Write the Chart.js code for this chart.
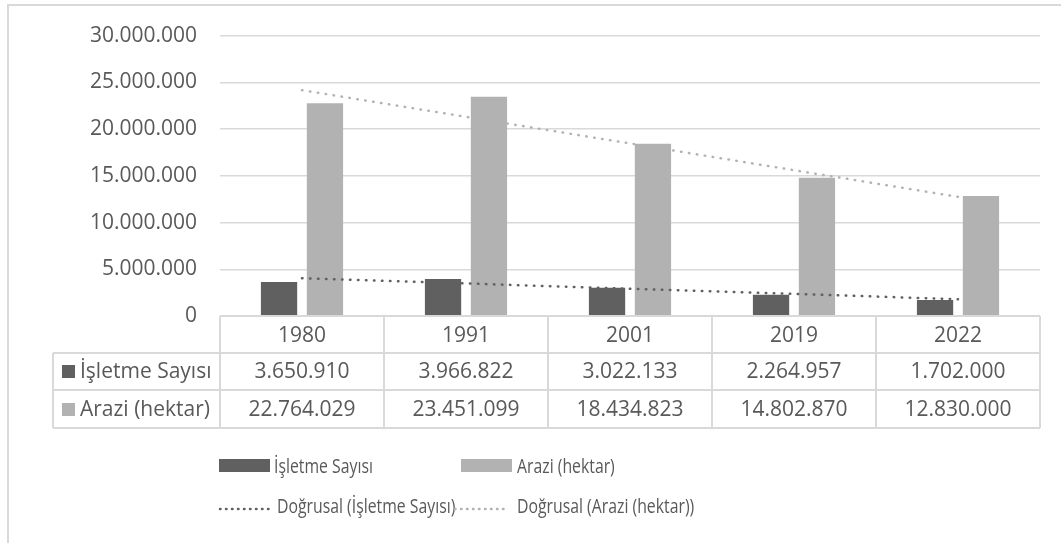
<!DOCTYPE html>
<html>
<head>
<meta charset="utf-8">
<script src="https://cdn.jsdelivr.net/npm/chart.js@4"></script>
<style>
  body { margin: 0; background: #fff; }
  #wrap { width: 1061px; height: 543px; }
</style>
</head>
<body>
<div id="wrap"><canvas id="chart" width="1061" height="543"></canvas></div>
<script>
const years = ['1980', '1991', '2001', '2019', '2022'];
const isletmeSayisi = [3650910, 3966822, 3022133, 2264957, 1702000];
const araziHektar = [22764029, 23451099, 18434823, 14802870, 12830000];
const trendIsletme = [4040000, 3480000, 2920000, 2360000, 1800000];
const trendArazi = [24160000, 21310000, 18460000, 15600000, 12750000];

const TEXT = '#595959';
const LINE = '#d9d9d9';
const DARK = '#606060';
const LIGHT = '#b2b2b2';
const FONT = '"Open Sans", sans-serif';

function fmt(n) {
  return String(n).replace(/\B(?=(\d{3})+(?!\d))/g, '.');
}

function hline(ctx, x1, x2, y) {
  ctx.beginPath(); ctx.moveTo(x1, y); ctx.lineTo(x2, y); ctx.stroke();
}
function vline(ctx, x, y1, y2) {
  ctx.beginPath(); ctx.moveTo(x, y1); ctx.lineTo(x, y2); ctx.stroke();
}

const tablePlugin = {
  id: 'dataTable',
  beforeDraw(chart) {
    const ctx = chart.ctx;
    ctx.save();
    ctx.strokeStyle = LINE;
    ctx.lineWidth = 2;
    vline(ctx, 8, 5, 543);
    hline(ctx, 7, 1061, 5);
    ctx.restore();
  },
  afterDraw(chart) {
    const ctx = chart.ctx;
    const area = chart.chartArea;
    const xs = chart.scales.x;
    const colW = (area.right - area.left) / years.length;
    const top = area.bottom;
    const rows = [top, top + 37, top + 74, top + 112];
    const headLeft = 53;

    ctx.save();
    ctx.strokeStyle = LINE;
    ctx.lineWidth = 2;
    hline(ctx, area.left, area.right, rows[0]);
    hline(ctx, headLeft, area.right, rows[1]);
    hline(ctx, headLeft, area.right, rows[2]);
    hline(ctx, headLeft, area.right, rows[3]);
    vline(ctx, headLeft, rows[1], rows[3]);
    for (let i = 0; i <= years.length; i++) {
      vline(ctx, area.left + i * colW, rows[0], rows[3]);
    }

    ctx.fillStyle = TEXT;
    ctx.font = '21px ' + FONT;
    ctx.textAlign = 'center';
    ctx.textBaseline = 'alphabetic';
    const bars = chart.data.datasets.filter(d => d.type !== 'line');
    years.forEach((y, i) => {
      const cx = xs.getPixelForValue(i);
      ctx.fillText(y, cx, rows[0] + 26);
      bars.forEach((ds, r) => {
        ctx.fillText(fmt(ds.data[i]), cx, rows[r + 1] + 25 + r);
      });
    });

    ctx.textAlign = 'left';
    bars.forEach((ds, r) => {
      const base = rows[r + 1] + 25 + r;
      ctx.fillStyle = ds.backgroundColor;
      ctx.fillRect(62, base - 13, 13, 13);
      ctx.fillStyle = TEXT;
      ctx.fillText(ds.label, 80, base);
    });

    // legend, 2 x 2
    const lines = chart.data.datasets.filter(d => d.type === 'line');
    ctx.font = '20px ' + FONT;
    const swatchX = [219, 461];
    const textX = [274, 517];
    bars.forEach((ds, i) => {
      ctx.fillStyle = ds.backgroundColor;
      ctx.fillRect(swatchX[i], 459, 51, 13);
      ctx.fillStyle = TEXT;
      ctx.save();
      ctx.translate(textX[i], 473);
      ctx.scale(0.79, 1);
      ctx.fillText(ds.label, 0, 0);
      ctx.restore();
    });
    const dotX = [220, 455];
    const dotText = [277, 517];
    lines.forEach((ds, i) => {
      ctx.save();
      ctx.strokeStyle = ds.borderColor;
      ctx.lineWidth = 2.5;
      ctx.lineCap = 'round';
      ctx.setLineDash([0.5, 5.5]);
      hline(ctx, dotX[i], dotX[i] + 50, 509);
      ctx.restore();
      ctx.fillStyle = TEXT;
      ctx.save();
      ctx.translate(dotText[i], 513);
      ctx.scale(0.79, 1);
      ctx.fillText(ds.label, 0, 0);
      ctx.restore();
    });
    ctx.restore();
  }
};

new Chart(document.getElementById('chart'), {
  type: 'bar',
  data: {
    labels: years,
    datasets: [
      {
        label: 'İşletme Sayısı',
        data: isletmeSayisi,
        backgroundColor: DARK,
        categoryPercentage: 0.56,
        barPercentage: 0.79,
        order: 2
      },
      {
        label: 'Arazi (hektar)',
        data: araziHektar,
        backgroundColor: LIGHT,
        categoryPercentage: 0.56,
        barPercentage: 0.79,
        order: 2
      },
      {
        type: 'line',
        label: 'Doğrusal (İşletme Sayısı)',
        data: trendIsletme,
        borderColor: DARK,
        borderWidth: 2.5,
        borderDash: [0.5, 7.5],
        borderCapStyle: 'round',
        pointRadius: 0,
        fill: false,
        order: 0
      },
      {
        type: 'line',
        label: 'Doğrusal (Arazi (hektar))',
        data: trendArazi,
        borderColor: LIGHT,
        borderWidth: 2.5,
        borderDash: [0.5, 7.5],
        borderCapStyle: 'round',
        pointRadius: 0,
        fill: false,
        order: 0
      }
    ]
  },
  options: {
    responsive: false,
    animation: false,
    layout: { padding: { top: 34, right: 21, bottom: 227, left: 0 } },
    plugins: {
      legend: { display: false },
      tooltip: { enabled: false }
    },
    scales: {
      x: { display: false },
      y: {
        min: 0,
        max: 30000000,
        ticks: {
          stepSize: 5000000,
          padding: 23,
          color: TEXT,
          font: { family: FONT, size: 21 },
          callback: v => fmt(v)
        },
        grid: { color: LINE, lineWidth: 1.5, drawTicks: false },
        border: { display: false },
        afterFit(scale) { scale.width = 220; }
      }
    }
  },
  plugins: [tablePlugin]
});
</script>
</body>
</html>
